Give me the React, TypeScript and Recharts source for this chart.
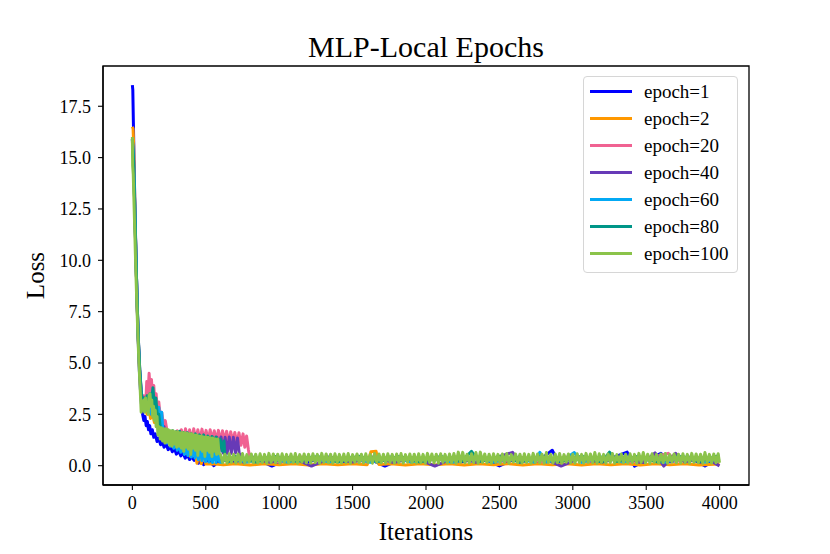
import { LineChart, Line, XAxis, YAxis, Legend, ReferenceArea } from 'recharts'

type Pt = [number, number]

const FONT = '"Liberation Serif", "Times New Roman", Times, serif'

const ITER_DOMAIN = [-200, 4200]
const LOSS_DOMAIN = [-0.94, 19.46]
const ITER_TICKS = [0, 500, 1000, 1500, 2000, 2500, 3000, 3500, 4000]
const LOSS_TICKS = [0, 2.5, 5, 7.5, 10, 12.5, 15, 17.5]

// loss per iteration (zigzags trace the noise band)
const epoch1: Pt[] = [
  [0, 18.53], [3, 18.3], [7, 16.7], [12, 14.6], [18, 12.4], [24, 10.4], [30, 8.6], [36, 7.0], [42, 5.7], [48, 4.6],
  [55, 3.7], [62, 3.0], [70, 2.5], [78, 2.2], [86, 2.4], [94, 1.95], [102, 2.15], [110, 1.75], [118, 1.95], [126, 1.55],
  [136, 1.75], [146, 1.38], [156, 1.55], [168, 1.18], [180, 1.35], [192, 1.02], [204, 1.18], [216, 0.9], [230, 1.05],
  [244, 0.78], [258, 0.95], [272, 0.68], [286, 0.85], [300, 0.56], [315, 0.72], [330, 0.48], [345, 0.62], [360, 0.37],
  [375, 0.52], [390, 0.3], [405, 0.45], [420, 0.26], [435, 0.4], [450, 0.12], [465, 0.32], [485, 0.05], [515, 0.3],
  [555, 0.0], [600, 0.3], [700, 0.18], [820, 0.42], [950, -0.02], [1080, 0.38], [1200, 0.2], [1330, 0.42], [1460, 0.16],
  [1590, 0.4], [1720, -0.02], [1850, 0.38], [1980, 0.2], [2110, 0.41], [2240, 0.18], [2370, 0.4], [2500, -0.01],
  [2630, 0.42], [2760, 0.2], [2860, 0.75], [2900, 0.18], [3020, 0.4], [3150, 0.16], [3280, 0.42], [3370, 0.66],
  [3420, -0.02], [3540, 0.4], [3600, 0.6], [3660, 0.18], [3790, 0.42], [3900, -0.01], [3999, 0.38],
]

const epoch2: Pt[] = [
  [0, 16.5], [5, 16.4], [9, 15.6], [15, 13.4], [22, 11.0], [30, 8.6], [38, 6.6], [46, 5.1], [54, 4.0], [62, 3.3],
  [70, 3.0], [80, 2.7], [90, 3.0], [100, 2.5], [112, 2.8], [124, 2.3], [136, 2.6], [150, 2.1], [164, 2.9], [178, 1.9],
  [192, 2.2], [206, 1.6], [220, 1.9], [236, 1.35], [252, 1.6], [268, 1.15], [284, 1.35], [300, 0.95], [316, 1.15],
  [332, 0.8], [348, 0.95], [364, 0.6], [380, 0.75], [396, 0.45], [410, 0.6], [425, 0.75], [440, 0.12], [455, 0.72],
  [470, 0.1], [485, 0.7], [500, 0.08], [540, 0.1], [620, 0.04], [700, 0.1], [800, 0.03], [900, 0.09], [1000, 0.04],
  [1100, 0.1], [1200, 0.03], [1300, 0.09], [1400, 0.04], [1500, 0.1], [1600, 0.05], [1625, 0.68], [1660, 0.7],
  [1680, 0.06], [1760, 0.1], [1860, 0.03], [1960, 0.09], [2060, 0.04], [2160, 0.1], [2260, 0.03], [2360, 0.09],
  [2460, 0.04], [2560, 0.1], [2660, 0.03], [2760, 0.09], [2860, 0.04], [2960, 0.1], [3060, 0.03], [3160, 0.09],
  [3260, 0.04], [3360, 0.1], [3460, 0.03], [3560, 0.09], [3660, 0.04], [3760, 0.1], [3860, 0.03], [3999, 0.08],
]

const epoch20: Pt[] = [
  [0, 15.8], [8, 14.8], [16, 12.6], [24, 10.2], [32, 8.0], [40, 6.2], [50, 4.6], [60, 3.6], [70, 3.1], [80, 3.4],
  [90, 2.9], [98, 4.1], [106, 3.4], [114, 4.5], [122, 3.6], [130, 4.2], [138, 3.3], [146, 3.9], [154, 3.0], [162, 3.5],
  [170, 2.7], [180, 3.1], [190, 2.4], [200, 2.6], [212, 2.0], [224, 2.2], [236, 1.7], [250, 1.6], [264, 1.2],
  [278, 1.65], [292, 1.2], [306, 1.7], [320, 1.25], [334, 1.75], [348, 1.2], [362, 1.8], [376, 1.25], [390, 1.75],
  [404, 1.2], [418, 1.8], [432, 1.25], [446, 1.75], [460, 1.2], [474, 1.78], [488, 1.25], [502, 1.72], [516, 1.2],
  [530, 1.75], [544, 1.25], [558, 1.7], [572, 1.2], [586, 1.72], [600, 1.15], [614, 1.7], [628, 1.2], [642, 1.68],
  [656, 1.1], [670, 1.65], [684, 1.15], [698, 1.62], [712, 1.05], [726, 1.6], [740, 1.0], [754, 1.55], [766, 0.9],
  [778, 1.45], [790, 0.8], [800, 0.35], [830, 0.18], [860, 0.4], [1000, 0.18], [1150, 0.42], [1300, 0.2], [1450, 0.4],
  [1600, 0.18], [1750, 0.42], [1900, 0.2], [2050, 0.4], [2200, 0.18], [2350, 0.42], [2500, 0.2], [2650, 0.4],
  [2800, 0.18], [2950, 0.42], [3100, 0.2], [3250, 0.4], [3400, 0.18], [3550, 0.42], [3650, 0.6], [3700, 0.2],
  [3850, 0.4], [3999, 0.2],
]

const epoch40: Pt[] = [
  [0, 15.9], [8, 14.9], [16, 12.7], [24, 10.3], [32, 8.1], [40, 6.3], [50, 4.7], [60, 3.7], [70, 3.0], [80, 3.3],
  [90, 2.8], [100, 3.2], [110, 2.7], [120, 3.0], [132, 2.5], [144, 2.8], [156, 2.3], [168, 2.5], [180, 2.0], [192, 2.2],
  [204, 1.7], [216, 1.9], [228, 1.45], [240, 1.65], [254, 1.3], [268, 1.55], [282, 1.2], [296, 1.5], [310, 1.15],
  [324, 1.48], [338, 1.1], [352, 1.45], [366, 1.05], [380, 1.45], [394, 1.0], [408, 1.42], [422, 0.95], [436, 1.4],
  [450, 0.9], [464, 1.4], [478, 0.85], [492, 1.38], [506, 0.8], [520, 1.38], [534, 0.75], [548, 1.4], [562, 0.7],
  [576, 1.38], [590, 0.65], [604, 1.4], [618, 0.62], [632, 1.38], [646, 0.6], [660, 1.4], [674, 0.6], [688, 1.38],
  [702, 0.62], [716, 1.35], [728, 0.6], [736, 0.3], [760, 0.15], [800, 0.4], [940, 0.16], [1080, 0.42], [1220, -0.02],
  [1360, 0.4], [1500, 0.18], [1640, 0.42], [1780, 0.15], [1920, 0.4], [2060, -0.02], [2200, 0.42], [2340, 0.17],
  [2480, 0.4], [2590, 0.65], [2640, 0.16], [2780, 0.42], [2920, -0.02], [3060, 0.4], [3200, 0.18], [3340, 0.42],
  [3480, 0.15], [3560, 0.62], [3620, -0.02], [3700, 0.6], [3760, 0.18], [3900, 0.4], [3999, -0.01],
]

const epoch60: Pt[] = [
  [0, 15.9], [8, 14.9], [16, 12.7], [24, 10.3], [32, 8.1], [40, 6.2], [50, 4.6], [60, 3.5], [70, 2.9], [80, 3.2],
  [90, 2.7], [100, 3.1], [110, 2.6], [120, 3.0], [130, 2.5], [140, 2.8], [150, 2.3], [160, 2.9], [170, 2.2],
  [180, 2.85], [190, 2.1], [200, 2.6], [210, 1.4], [222, 1.6], [234, 1.1], [246, 1.35], [258, 0.95], [270, 1.3],
  [282, 0.85], [294, 1.25], [306, 0.75], [318, 1.2], [330, 0.65], [342, 1.15], [354, 0.55], [366, 1.1], [378, 0.5],
  [390, 1.1], [402, 0.42], [414, 1.05], [426, 0.38], [438, 1.0], [450, 0.3], [462, 1.0], [474, 0.25], [486, 0.95],
  [498, 0.2], [510, 0.9], [522, 0.18], [534, 0.85], [546, 0.15], [558, 0.8], [570, 0.15], [582, 0.75], [594, 0.18],
  [610, 0.16], [640, 0.42], [780, 0.18], [920, 0.4], [1060, 0.16], [1200, 0.42], [1340, 0.18], [1480, 0.4],
  [1620, 0.16], [1760, 0.42], [1900, 0.18], [2040, 0.4], [2180, 0.16], [2320, 0.42], [2460, 0.18], [2600, 0.4],
  [2740, 0.16], [2775, 0.65], [2820, 0.18], [2960, 0.4], [3010, 0.64], [3060, 0.16], [3200, 0.42], [3340, 0.18],
  [3480, 0.4], [3620, 0.16], [3760, 0.42], [3900, 0.18], [3999, 0.35],
]

const epoch80: Pt[] = [
  [0, 15.9], [8, 14.9], [16, 12.7], [24, 10.3], [32, 8.1], [40, 6.3], [50, 4.7], [60, 3.6], [70, 2.9], [80, 3.3],
  [90, 2.8], [100, 3.4], [110, 2.9], [120, 3.5], [130, 3.0], [140, 3.8], [150, 2.9], [160, 3.3], [170, 2.4],
  [180, 2.5], [190, 1.9], [202, 1.75], [214, 1.4], [226, 1.7], [238, 1.3], [250, 1.68], [262, 1.25], [274, 1.7],
  [286, 1.2], [298, 1.65], [310, 1.15], [322, 1.68], [334, 1.1], [346, 1.62], [360, 1.05], [374, 1.6], [388, 1.0],
  [402, 1.55], [416, 0.95], [430, 1.55], [444, 0.9], [458, 1.5], [472, 0.85], [486, 1.5], [500, 0.8], [514, 1.45],
  [528, 0.75], [542, 1.42], [556, 0.7], [570, 1.4], [584, 0.7], [598, 1.3], [612, 0.72], [624, 1.2], [632, 0.3],
  [650, 0.18], [700, 0.45], [840, 0.18], [980, 0.45], [1120, 0.2], [1260, 0.45], [1400, 0.18], [1540, 0.46],
  [1680, 0.2], [1820, 0.45], [1960, 0.18], [2100, 0.45], [2240, 0.2], [2310, 0.7], [2360, 0.2], [2500, 0.45],
  [2640, 0.18], [2780, 0.45], [2920, 0.2], [3060, 0.46], [3200, 0.18], [3250, 0.66], [3300, 0.2], [3440, 0.45],
  [3580, 0.18], [3720, 0.46], [3860, 0.2], [3999, 0.5],
]

const epoch100: Pt[] = [
  [0, 16.0], [2, 14.6], [6, 14.2], [12, 12.6], [18, 11.0], [24, 9.4], [30, 8.0], [36, 6.7], [42, 5.5], [48, 4.5],
  [54, 3.6], [60, 2.6], [66, 3.1], [72, 2.7], [78, 3.2], [84, 2.6], [90, 3.3], [96, 2.8], [102, 3.0], [108, 2.5],
  [114, 3.4], [120, 3.5], [126, 2.9], [132, 3.2], [138, 2.4], [144, 2.9], [150, 2.2], [156, 2.7], [162, 1.9],
  [168, 2.4], [174, 1.5], [182, 1.9], [190, 1.3], [198, 1.85], [206, 1.2], [214, 1.8], [222, 1.1], [230, 1.8],
  [238, 1.15], [246, 1.75], [254, 1.0], [262, 1.7], [270, 0.95], [278, 1.7], [286, 1.05], [294, 1.65], [302, 0.9],
  [310, 1.65], [318, 0.95], [326, 1.6], [334, 0.85], [342, 1.62], [350, 0.7], [358, 1.6], [366, 0.9], [374, 1.58],
  [382, 0.8], [390, 1.55], [398, 0.55], [406, 1.55], [414, 0.85], [422, 1.5], [430, 0.75], [438, 1.5], [446, 0.5],
  [454, 1.45], [462, 0.8], [470, 1.45], [478, 0.7], [486, 1.4], [494, 0.45], [502, 1.4], [510, 0.75], [518, 1.38],
  [526, 0.65], [534, 1.35], [542, 0.45], [550, 1.35], [558, 0.7], [566, 1.3], [574, 0.55], [582, 1.3], [590, 0.6],
  [600, 0.55],
  [615, 0.14], [630, 0.56], [645, 0.12], [660, 0.58], [675, 0.16], [690, 0.55], [705, 0.13], [720, 0.57],
  [735, 0.15], [750, 0.59], [765, 0.12], [780, 0.54], [795, 0.17], [810, 0.57], [825, 0.14], [840, 0.56],
  [855, 0.13], [870, 0.58], [885, 0.15], [900, 0.55], [915, 0.12], [930, 0.6], [945, 0.16], [960, 0.57],
  [975, 0.14], [990, 0.56], [1005, 0.12], [1020, 0.58], [1035, 0.16], [1050, 0.55], [1065, 0.13], [1080, 0.57],
  [1095, 0.15], [1110, 0.59], [1125, 0.12], [1140, 0.54], [1155, 0.17], [1170, 0.57], [1185, 0.14], [1200, 0.56],
  [1215, 0.13], [1230, 0.58], [1245, 0.15], [1260, 0.55], [1275, 0.12], [1290, 0.6], [1305, 0.16], [1320, 0.57],
  [1335, 0.14], [1350, 0.56], [1365, 0.12], [1380, 0.58], [1395, 0.16], [1410, 0.55], [1425, 0.13], [1440, 0.57],
  [1455, 0.15], [1470, 0.59], [1485, 0.12], [1500, 0.54], [1515, 0.17], [1530, 0.57], [1545, 0.14], [1560, 0.56],
  [1575, 0.13], [1590, 0.58], [1605, 0.15], [1620, 0.55], [1635, 0.12], [1650, 0.6], [1665, 0.16], [1680, 0.57],
  [1695, 0.14], [1710, 0.56], [1725, 0.12], [1740, 0.58], [1755, 0.16], [1770, 0.55], [1785, 0.13], [1800, 0.57],
  [1815, 0.15], [1830, 0.59], [1845, 0.12], [1860, 0.54], [1875, 0.17], [1890, 0.57], [1905, 0.14], [1920, 0.56],
  [1935, 0.13], [1950, 0.58], [1965, 0.15], [1980, 0.55], [1995, 0.12], [2010, 0.6], [2025, 0.16], [2040, 0.57],
  [2055, 0.14], [2070, 0.56], [2085, 0.12], [2100, 0.58], [2115, 0.16], [2130, 0.55], [2145, 0.13], [2160, 0.57],
  [2175, 0.15], [2190, 0.59], [2205, 0.12], [2220, 0.66], [2235, 0.17], [2250, 0.65], [2265, 0.14], [2280, 0.56],
  [2295, 0.13], [2310, 0.58], [2325, 0.15], [2340, 0.64], [2355, 0.12], [2370, 0.66], [2385, 0.16], [2400, 0.57],
  [2415, 0.14], [2430, 0.56], [2445, 0.12], [2460, 0.58], [2475, 0.16], [2490, 0.55], [2505, 0.13], [2520, 0.57],
  [2535, 0.15], [2550, 0.59], [2565, 0.12], [2580, 0.54], [2595, 0.17], [2610, 0.57], [2625, 0.14], [2640, 0.56],
  [2655, 0.13], [2670, 0.58], [2685, 0.15], [2700, 0.55], [2715, 0.12], [2730, 0.6], [2745, 0.16], [2760, 0.57],
  [2775, 0.14], [2790, 0.56], [2805, 0.12], [2820, 0.64], [2835, 0.16], [2850, 0.55], [2865, 0.13], [2880, 0.57],
  [2895, 0.15], [2910, 0.59], [2925, 0.12], [2940, 0.54], [2955, 0.17], [2970, 0.57], [2985, 0.14], [3000, 0.56],
  [3015, 0.13], [3030, 0.58], [3045, 0.15], [3060, 0.55], [3075, 0.12], [3090, 0.6], [3105, 0.16], [3120, 0.57],
  [3135, 0.14], [3150, 0.64], [3165, 0.12], [3180, 0.58], [3195, 0.16], [3210, 0.55], [3225, 0.13], [3240, 0.57],
  [3255, 0.15], [3270, 0.59], [3285, 0.12], [3300, 0.54], [3315, 0.17], [3330, 0.57], [3345, 0.14], [3360, 0.56],
  [3375, 0.13], [3390, 0.58], [3405, 0.15], [3420, 0.55], [3435, 0.12], [3450, 0.6], [3465, 0.16], [3480, 0.64],
  [3495, 0.14], [3510, 0.56], [3525, 0.12], [3540, 0.58], [3555, 0.16], [3570, 0.55], [3585, 0.13], [3600, 0.57],
  [3615, 0.15], [3630, 0.59], [3645, 0.12], [3660, 0.54], [3675, 0.17], [3690, 0.57], [3705, 0.14], [3720, 0.56],
  [3735, 0.13], [3750, 0.58], [3765, 0.15], [3780, 0.55], [3795, 0.12], [3810, 0.6], [3825, 0.16], [3840, 0.57],
  [3855, 0.14], [3870, 0.56], [3885, 0.12], [3900, 0.64], [3915, 0.16], [3930, 0.55], [3945, 0.13], [3960, 0.57],
  [3975, 0.15], [3990, 0.58], [3999, 0.14],
]

const seriesNames = ['epoch=1', 'epoch=2', 'epoch=20', 'epoch=40', 'epoch=60', 'epoch=80', 'epoch=100']
const seriesColors = ['#0000FF', '#FF9800', '#F06292', '#673AB7', '#03A9F4', '#009688', '#8BC34A']
const seriesData = [epoch1, epoch2, epoch20, epoch40, epoch60, epoch80, epoch100]

const toPoints = (pts: Pt[]) => pts.map(([it, loss]) => ({ it, loss }))

const axisLine = { stroke: '#000', strokeWidth: 1.3 }
const tickLine = { stroke: '#000', strokeWidth: 1.1 }
const tickStyle = { fill: '#000', fontSize: 18, fontFamily: FONT }

function LossLabel({ viewBox }: any) {
  const cx = viewBox.x - 8
  const cy = viewBox.y + viewBox.height / 2
  return (
    <text x={cx} y={cy} transform={`rotate(-90 ${cx} ${cy})`} textAnchor="middle" dominantBaseline="central"
      fontSize={25} fontFamily={FONT} fill="#000">Loss</text>
  )
}

function LegendBox() {
  return (
    <div style={{
      border: '1px solid #d6d6d6', borderRadius: 4, background: '#fff', padding: '1px 8px 5px 6px',
      fontFamily: FONT, fontSize: 19, color: '#000',
    }}>
      {seriesNames.map((name, i) => (
        <div key={name} style={{ height: 27, display: 'flex', alignItems: 'center', whiteSpace: 'nowrap', fontFamily: FONT }}>
          <span style={{ width: 42, height: 3, background: seriesColors[i], marginRight: 12 }} />
          {name}
        </div>
      ))}
    </div>
  )
}

export default function App() {
  return (
    <div style={{ width: 814, height: 538, background: '#fff', fontFamily: FONT }}>
      <LineChart width={814} height={538} margin={{ top: 58, right: 73, bottom: 31, left: 35 }} style={{ fontFamily: FONT }}>
        <XAxis dataKey="it" type="number" domain={ITER_DOMAIN} ticks={ITER_TICKS} allowDataOverflow height={30}
          tickSize={5} tickMargin={6} axisLine={axisLine} tickLine={tickLine} tick={tickStyle}
          label={{ value: 'Iterations', position: 'bottom', offset: 7, fill: '#000', fontSize: 25, fontFamily: FONT }} />
        <YAxis type="number" domain={LOSS_DOMAIN} ticks={LOSS_TICKS} allowDataOverflow width={60}
          tickSize={5} tickMargin={7} axisLine={axisLine} tickLine={tickLine} tick={tickStyle}
          tickFormatter={(v: number) => v.toFixed(1)} label={<LossLabel />} />
        <ReferenceArea x1={ITER_DOMAIN[0]} x2={ITER_DOMAIN[1]} y1={LOSS_DOMAIN[0]} y2={LOSS_DOMAIN[1]} ifOverflow="visible"
          fill="none" fillOpacity={0} stroke="#000" strokeWidth={1.3}
          label={{ value: 'MLP-Local Epochs', position: 'top', offset: 9, fill: '#000', fontSize: 30, fontFamily: FONT }} />
        <Legend layout="horizontal" verticalAlign="middle" align="center"
          wrapperStyle={{ left: 575, top: 68, width: 'auto', height: 'auto' }} content={<LegendBox />} />
        {seriesData.map((pts, i) => (
          <Line key={seriesNames[i]} data={toPoints(pts)} dataKey="loss" name={seriesNames[i]} type="linear"
            stroke={seriesColors[i]} strokeWidth={3} strokeLinejoin="round" dot={false} activeDot={false}
            isAnimationActive={false} />
        ))}
      </LineChart>
    </div>
  )
}
